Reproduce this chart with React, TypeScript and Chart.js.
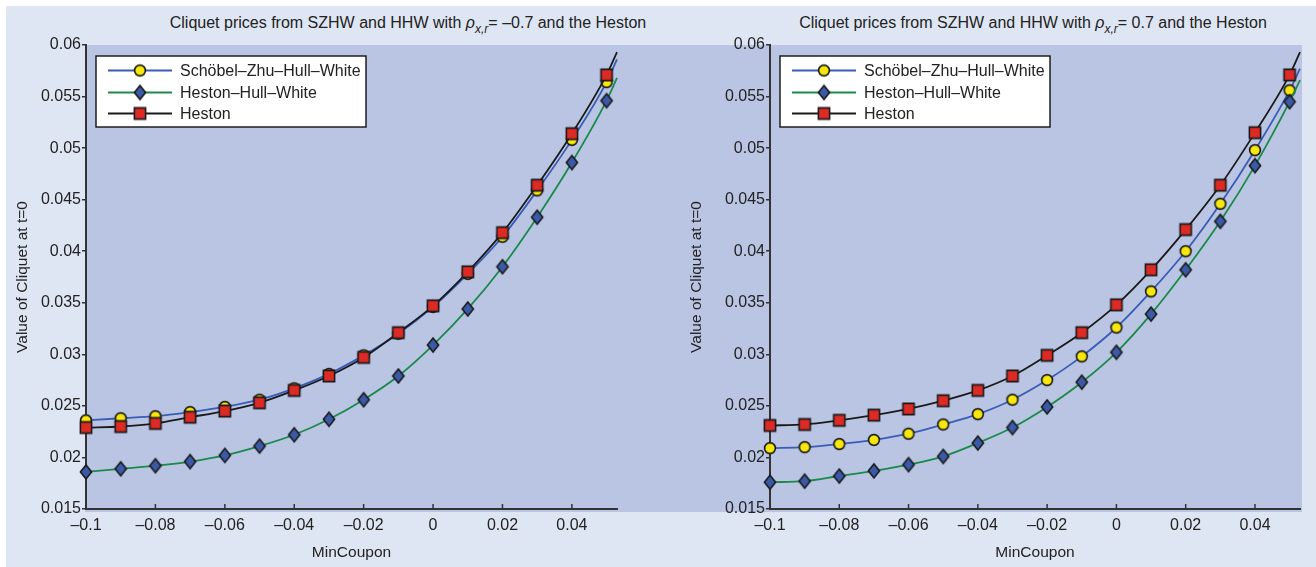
import React, { useEffect, useRef } from "react";
import { Chart, registerables } from "chart.js";

Chart.register(...registerables);

// ---------------- data ----------------
const minCoupon = [-0.1, -0.09, -0.08, -0.07, -0.06, -0.05, -0.04, -0.03, -0.02, -0.01, 0, 0.01, 0.02, 0.03, 0.04, 0.05];
const lineEndX = 0.053;

const xTicks = [-0.1, -0.08, -0.06, -0.04, -0.02, 0, 0.02, 0.04];
const xTickLabels = ["–0.1", "–0.08", "–0.06", "–0.04", "–0.02", "0", "0.02", "0.04"];
const yTicks = [0.015, 0.02, 0.025, 0.03, 0.035, 0.04, 0.045, 0.05, 0.055, 0.06];
const yTickLabels = ["0.015", "0.02", "0.025", "0.03", "0.035", "0.04", "0.045", "0.05", "0.055", "0.06"];

const seriesNames = ["Schöbel–Zhu–Hull–White", "Heston–Hull–White", "Heston"];

// left panel (rho = -0.7)
const leftSZHW = [0.0236, 0.0238, 0.024, 0.0244, 0.0249, 0.0256, 0.0267, 0.0281, 0.0299, 0.032, 0.0346, 0.0378, 0.0414, 0.0459, 0.0508, 0.0564];
const leftSZHWEnd = 0.0586;
const leftHHW = [0.0186, 0.0189, 0.0192, 0.0196, 0.0202, 0.0211, 0.0222, 0.0237, 0.0256, 0.0279, 0.0309, 0.0344, 0.0385, 0.0433, 0.0486, 0.0546];
const leftHHWEnd = 0.0568;
const leftHeston = [0.0229, 0.023, 0.0233, 0.0239, 0.0245, 0.0253, 0.0265, 0.0279, 0.0297, 0.0321, 0.0347, 0.038, 0.0418, 0.0464, 0.0514, 0.0571];
const leftHestonEnd = 0.0593;

// right panel (rho = 0.7)
const rightSZHW = [0.0209, 0.021, 0.0213, 0.0217, 0.0223, 0.0232, 0.0242, 0.0256, 0.0275, 0.0298, 0.0326, 0.0361, 0.04, 0.0446, 0.0498, 0.0556];
const rightSZHWEnd = 0.0577;
const rightHHW = [0.0176, 0.0177, 0.0182, 0.0187, 0.0193, 0.0201, 0.0214, 0.0229, 0.0249, 0.0273, 0.0302, 0.0339, 0.0382, 0.0429, 0.0483, 0.0545];
const rightHHWEnd = 0.0566;
const rightHeston = [0.0231, 0.0232, 0.0236, 0.0241, 0.0247, 0.0255, 0.0265, 0.0279, 0.0299, 0.0321, 0.0348, 0.0382, 0.0421, 0.0464, 0.0515, 0.0571];
const rightHestonEnd = 0.0593;

// ---------------- styles ----------------
const FONT = "'Liberation Sans', Arial, Helvetica, sans-serif";
const TEXT = "#222222";
const AXIS = "#333333";
const LIGHT = "#dfe6f3";
const PLOT_BG = "#b9c5e3";
const LINE_BLUE = "#3a5cb6";
const LINE_GREEN = "#1a8a4a";
const LINE_BLACK = "#1a1a1a";
const YELLOW = "#f8e70c";
const RED = "#dd2a25";
const DIAMOND = "#3a5aa8";

type MarkerKind = "circle" | "square" | "diamond";

function makeMarker(kind: MarkerKind, fill: string): HTMLCanvasElement {
  const c = document.createElement("canvas");
  const w = kind === "diamond" ? 16 : 16;
  const h = kind === "diamond" ? 18 : 16;
  c.width = w;
  c.height = h;
  const g = c.getContext("2d")!;
  g.fillStyle = fill;
  g.strokeStyle = "#1a1a1a";
  g.lineWidth = 1.6;
  const cx = w / 2;
  const cy = h / 2;
  g.beginPath();
  if (kind === "circle") {
    g.arc(cx, cy, 5.4, 0, Math.PI * 2);
  } else if (kind === "square") {
    g.rect(cx - 5.6, cy - 5.6, 11.2, 11.2);
  } else {
    g.moveTo(cx, cy - 7);
    g.lineTo(cx + 5.6, cy);
    g.lineTo(cx, cy + 7);
    g.lineTo(cx - 5.6, cy);
    g.closePath();
  }
  g.fill();
  g.stroke();
  return c;
}

function dataset(label: string, vals: number[], end: number, color: string, marker: HTMLCanvasElement, order: number) {
  return {
    label,
    data: [...minCoupon.map((x, i) => ({ x, y: vals[i] })), { x: lineEndX, y: end }],
    borderColor: color,
    backgroundColor: color,
    borderWidth: 1.8,
    pointStyle: marker,
    pointRadius: (c: any) => (c.dataIndex < minCoupon.length ? 6 : 0),
    pointHoverRadius: 0,
    pointHitRadius: 0,
    cubicInterpolationMode: "monotone",
    order,
    clip: false,
  };
}

const innerXTicks = {
  id: "innerXTicks",
  beforeDatasetsDraw(chart: any) {
    const { ctx, chartArea, scales } = chart;
    const x = scales.x;
    ctx.save();
    ctx.strokeStyle = AXIS;
    ctx.lineWidth = 1.5;
    xTicks.forEach((v) => {
      const px = x.getPixelForValue(v);
      ctx.beginPath();
      ctx.moveTo(px, chartArea.bottom);
      ctx.lineTo(px, chartArea.bottom - 5);
      ctx.stroke();
    });
    ctx.restore();
  },
};

function legendPlugin(entries: { name: string; color: string; marker: HTMLCanvasElement }[]) {
  return {
    id: "boxLegend",
    afterDatasetsDraw(chart: any) {
      const { ctx, chartArea } = chart;
      const bx = chartArea.left + 10;
      const by = chartArea.top + 11;
      const bw = 270;
      const bh = 71;
      ctx.save();
      ctx.fillStyle = "#ffffff";
      ctx.fillRect(bx, by, bw, bh);
      ctx.strokeStyle = "#111111";
      ctx.lineWidth = 1.4;
      ctx.strokeRect(bx, by, bw, bh);
      const rows = [14.5, 36.5, 57.5];
      entries.forEach((e, i) => {
        const y = by + rows[i];
        ctx.strokeStyle = e.color;
        ctx.lineWidth = 1.8;
        ctx.beginPath();
        ctx.moveTo(bx + 12, y);
        ctx.lineTo(bx + 76, y);
        ctx.stroke();
        const m = e.marker;
        ctx.drawImage(m, bx + 44 - m.width / 2, y - m.height / 2);
        ctx.fillStyle = TEXT;
        ctx.font = `16px ${FONT}`;
        ctx.textBaseline = "middle";
        ctx.textAlign = "left";
        ctx.fillText(e.name, bx + 84, y + 1);
      });
      ctx.restore();
    },
  };
}

function buildChart(
  canvas: HTMLCanvasElement,
  cfg: {
    yAxisWidth: number;
    padRight: number;
    yTitlePad: number;
    szhw: number[];
    szhwEnd: number;
    hhw: number[];
    hhwEnd: number;
    heston: number[];
    hestonEnd: number;
    markers: Record<MarkerKind, HTMLCanvasElement>;
  }
) {
  const { markers } = cfg;
  const tickFont = { family: FONT, size: 16 };
  const titleFont = { family: FONT, size: 15.5 };
  return new Chart(canvas, {
    type: "line",
    data: {
      datasets: [
        dataset(seriesNames[0], cfg.szhw, cfg.szhwEnd, LINE_BLUE, markers.circle, 2),
        dataset(seriesNames[1], cfg.hhw, cfg.hhwEnd, LINE_GREEN, markers.diamond, 1),
        dataset(seriesNames[2], cfg.heston, cfg.hestonEnd, LINE_BLACK, markers.square, 0),
      ] as any,
    },
    options: {
      animation: false,
      responsive: false,
      devicePixelRatio: 1,
      layout: { padding: { left: 0, top: 45, right: cfg.padRight, bottom: 0 } },
      plugins: {
        legend: { display: false },
        tooltip: { enabled: false },
        title: { display: false },
      },
      events: [],
      scales: {
        x: {
          type: "linear",
          min: -0.1,
          max: lineEndX,
          afterBuildTicks: (s: any) => {
            s.ticks = xTicks.map((v) => ({ value: v }));
          },
          afterFit: (s: any) => {
            s.height = 58;
          },
          grid: { display: false, drawTicks: false },
          border: { display: true, color: AXIS, width: 2 },
          ticks: {
            padding: 7,
            font: tickFont,
            color: TEXT,
            autoSkip: false,
            maxRotation: 0,
            callback: (_v: any, i: number) => xTickLabels[i],
          },
          title: {
            display: true,
            text: "MinCoupon",
            font: titleFont,
            color: TEXT,
            padding: { top: 0, bottom: 5 },
          },
        },
        y: {
          type: "linear",
          min: 0.015,
          max: 0.06,
          afterBuildTicks: (s: any) => {
            s.ticks = yTicks.map((v) => ({ value: v }));
          },
          afterFit: (s: any) => {
            s.width = cfg.yAxisWidth;
          },
          grid: { display: true, drawOnChartArea: false, drawTicks: true, tickLength: 4, color: AXIS, lineWidth: 1.5 },
          border: { display: true, color: AXIS, width: 2 },
          ticks: {
            padding: 1,
            font: tickFont,
            color: TEXT,
            autoSkip: false,
            callback: (_v: any, i: number) => yTickLabels[i],
          },
          title: {
            display: true,
            text: "Value of Cliquet at t=0",
            font: titleFont,
            color: TEXT,
            padding: { top: cfg.yTitlePad, bottom: 0 },
          },
        },
      },
    } as any,
    plugins: [
      innerXTicks,
      legendPlugin([
        { name: seriesNames[0], color: LINE_BLUE, marker: markers.circle },
        { name: seriesNames[1], color: LINE_GREEN, marker: markers.diamond },
        { name: seriesNames[2], color: LINE_BLACK, marker: markers.square },
      ]),
    ],
  });
}

function Title({ center, rho }: { center: number; rho: string }) {
  return (
    <div
      style={{
        position: "absolute",
        left: center,
        top: 14,
        transform: "translateX(-50%)",
        whiteSpace: "nowrap",
        fontFamily: FONT,
        fontSize: 16,
        lineHeight: "18px",
        color: TEXT,
      }}
    >
      Cliquet prices from SZHW and HHW with <i>ρ</i>
      <sub style={{ fontSize: "0.75em", fontStyle: "italic", verticalAlign: "-0.4em", lineHeight: 0 }}>x,r</sub>= {rho} and the Heston
    </div>
  );
}

export default function App() {
  const leftRef = useRef<HTMLCanvasElement>(null);
  const rightRef = useRef<HTMLCanvasElement>(null);

  useEffect(() => {
    const markers: Record<MarkerKind, HTMLCanvasElement> = {
      circle: makeMarker("circle", YELLOW),
      diamond: makeMarker("diamond", DIAMOND),
      square: makeMarker("square", RED),
    };
    const c1 = buildChart(leftRef.current!, {
      yAxisWidth: 86,
      padRight: 43,
      yTitlePad: 13,
      szhw: leftSZHW,
      szhwEnd: leftSZHWEnd,
      hhw: leftHHW,
      hhwEnd: leftHHWEnd,
      heston: leftHeston,
      hestonEnd: leftHestonEnd,
      markers,
    });
    const c2 = buildChart(rightRef.current!, {
      yAxisWidth: 110,
      padRight: 16,
      yTitlePad: 27,
      szhw: rightSZHW,
      szhwEnd: rightSZHWEnd,
      hhw: rightHHW,
      hhwEnd: rightHHWEnd,
      heston: rightHeston,
      hestonEnd: rightHestonEnd,
      markers,
    });
    return () => {
      c1.destroy();
      c2.destroy();
    };
  }, []);

  return (
    <div
      style={{
        position: "fixed",
        left: 0,
        top: 0,
        width: 1316,
        height: 567,
        background: "#ffffff",
        overflow: "hidden",
      }}
    >
      <div style={{ position: "absolute", left: 6, top: 6, right: 0, bottom: 0, background: LIGHT }} />
      <div style={{ position: "absolute", left: 85, top: 45, width: 1217, height: 467, background: PLOT_BG }} />
      <Title center={408} rho="–0.7" />
      <Title center={1033} rho="0.7" />
      <canvas
        ref={leftRef}
        width={660}
        height={567}
        style={{ position: "absolute", left: 0, top: 0, width: 660, height: 567 }}
      />
      <canvas
        ref={rightRef}
        width={656}
        height={567}
        style={{ position: "absolute", left: 660, top: 0, width: 656, height: 567 }}
      />
    </div>
  );
}
